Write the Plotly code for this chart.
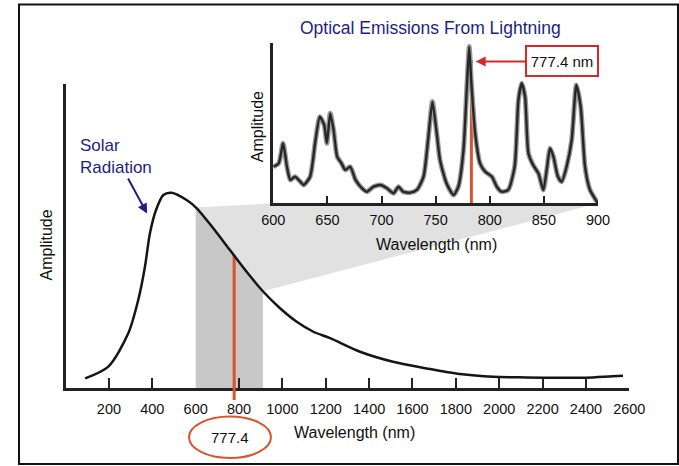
import numpy as np
import plotly.graph_objects as go

# ---------------- data ----------------
# Main (solar radiation) curve: wavelength (nm) and relative amplitude
solar_nm = [90, 197, 289, 335, 366, 389, 417, 451, 489, 558, 605, 681, 758, 835, 912,
            989, 1066, 1143, 1220, 1358, 1510, 1665, 1819, 1972, 2128, 2280, 2432, 2571]
solar_amp = [0.049, 0.109, 0.279, 0.449, 0.619, 0.789, 0.908, 0.985, 0.996, 0.959, 0.917,
             0.815, 0.704, 0.593, 0.491, 0.407, 0.338, 0.287, 0.254, 0.185, 0.134, 0.100,
             0.071, 0.057, 0.054, 0.052, 0.054, 0.062]
main_ticks = [200, 400, 600, 800, 1000, 1200, 1400, 1600, 1800, 2000, 2200, 2400, 2600]
main_tick_marks = [200, 400, 800, 1000, 1200, 1400, 1600, 1800, 2000, 2200, 2400]

band_nm = [600, 910]          # shaded wavelength band
marker_nm = 777.4             # oxygen line

# Inset (lightning spectrum)
light_nm = [600, 605, 609, 612.6, 615.7, 620, 625, 628, 634, 639, 643, 647, 649.5, 652.6,
            655.7, 659, 663, 666.5, 671, 676, 682, 686.5, 692.6, 699, 705, 711, 715.7, 720,
            726.5, 732.6, 738.8, 743, 747, 751, 754, 760, 766.5, 771, 775.7, 779, 781, 783,
            786.5, 791, 795.7, 802, 806.5, 811, 817, 823, 826.5, 829.5, 832.6, 835.7, 840,
            845, 849.5, 852.6, 855.7, 858.8, 863, 866.5, 871, 875.7, 880, 884, 888, 892.6,
            897, 900]
light_amp = [0.234, 0.255, 0.383, 0.234, 0.149, 0.17, 0.138, 0.117, 0.17, 0.404, 0.553, 0.5,
             0.383, 0.574, 0.468, 0.298, 0.255, 0.213, 0.234, 0.149, 0.096, 0.074, 0.106,
             0.117, 0.096, 0.064, 0.106, 0.074, 0.068, 0.085, 0.17, 0.404, 0.649, 0.447,
             0.277, 0.128, 0.053, 0.106, 0.34, 0.766, 1.0, 0.766, 0.447, 0.255, 0.202, 0.17,
             0.106, 0.074, 0.085, 0.234, 0.66, 0.766, 0.68, 0.32, 0.245, 0.19, 0.085, 0.213,
             0.351, 0.298, 0.17, 0.138, 0.234, 0.404, 0.755, 0.617, 0.234, 0.085, 0.032, 0.0]
inset_ticks = [600, 650, 700, 750, 800, 850, 900]
inset_tick_marks = [650, 700, 750, 800, 850]
inset_marker_nm = 783
inset_marker_top = 0.915

# ---------------- layout constants ----------------
W, H = 679, 466
def fx(px): return px / W
def fy(py): return 1 - py / H

MAIN_XD = [fx(65.6), fx(629.3)]
MAIN_YD = [fy(388), fy(84)]
MAIN_XR = [0, 2600]
MAIN_YR = [0, 1.551]
INS_XD = [fx(273.3), fx(598)]
INS_YD = [fy(203.3), fy(43.3)]
INS_XR = [600, 900]
INS_YR = [0, 1.021]

def to_paper(x, y, xd, yd, xr, yr):
    return (xd[0] + (x - xr[0]) / (xr[1] - xr[0]) * (xd[1] - xd[0]),
            yd[0] + (y - yr[0]) / (yr[1] - yr[0]) * (yd[1] - yd[0]))

FONT = "Liberation Sans, Arial, sans-serif"
NAVY = "#1e1e86"
RED = "#d9532b"
BOXRED = "#d42a2a"
AX = "#222222"

fig = go.Figure()

# shaded band under curve
b_amp = [float(np.interp(band_nm[0], solar_nm, solar_amp)),
         float(np.interp(band_nm[1], solar_nm, solar_amp))]
band_x = [band_nm[0]] + [n for n in solar_nm if band_nm[0] < n < band_nm[1]] + [band_nm[1]]
band_y = [b_amp[0]] + [a for n, a in zip(solar_nm, solar_amp) if band_nm[0] < n < band_nm[1]] + [b_amp[1]]
fig.add_trace(go.Scatter(x=band_x, y=band_y, mode="lines", fill="tozeroy",
                         fillcolor="#c8c8c8", line=dict(width=0, shape="spline"),
                         xaxis="x", yaxis="y", hoverinfo="skip"))

# red marker line on main plot
m_amp = float(np.interp(marker_nm, solar_nm, solar_amp))
fig.add_trace(go.Scatter(x=[marker_nm, marker_nm], y=[0, m_amp], mode="lines",
                         line=dict(color=RED, width=3), xaxis="x", yaxis="y", hoverinfo="skip"))

# solar curve
fig.add_trace(go.Scatter(x=solar_nm, y=solar_amp, mode="lines",
                         line=dict(color="#151515", width=2.5, shape="spline", smoothing=0.8),
                         xaxis="x", yaxis="y", hoverinfo="skip"))

# inset red marker
fig.add_trace(go.Scatter(x=[inset_marker_nm, inset_marker_nm], y=[0, inset_marker_top],
                         mode="lines", line=dict(color=RED, width=3),
                         xaxis="x2", yaxis="y2", hoverinfo="skip"))
# inset spectrum (halo + line)
fig.add_trace(go.Scatter(x=light_nm, y=light_amp, mode="lines",
                         line=dict(color="#9a9a9a", width=5, shape="spline", smoothing=0.6),
                         xaxis="x2", yaxis="y2", hoverinfo="skip"))
fig.add_trace(go.Scatter(x=light_nm, y=light_amp, mode="lines",
                         line=dict(color="#262626", width=2.4, shape="spline", smoothing=0.6),
                         xaxis="x2", yaxis="y2", hoverinfo="skip"))

# connector trapezoid (band -> inset)
p1 = to_paper(band_nm[0], b_amp[0], MAIN_XD, MAIN_YD, MAIN_XR, MAIN_YR)
p2 = to_paper(INS_XR[0], 0, INS_XD, INS_YD, INS_XR, INS_YR)
p3 = to_paper(INS_XR[1], 0, INS_XD, INS_YD, INS_XR, INS_YR)
p4 = to_paper(band_nm[1], b_amp[1], MAIN_XD, MAIN_YD, MAIN_XR, MAIN_YR)
path = "M {} {} L {} {} L {} {} L {} {} Z".format(p1[0], p1[1], p2[0], p2[1], p3[0], p3[1], p4[0], p4[1])

shapes = [
    dict(type="path", path=path, xref="paper", yref="paper", fillcolor="#e1e1e1",
         line=dict(width=0), layer="below"),
    # red line tail below the axis
    dict(type="line", xref="x", yref="paper", x0=marker_nm, x1=marker_nm,
         y0=fy(400), y1=MAIN_YD[0], line=dict(color=RED, width=3)),
    # ellipse around 777.4
    dict(type="circle", xref="paper", yref="paper", x0=fx(189), x1=fx(271),
         y0=fy(458), y1=fy(416.5), line=dict(color=RED, width=2)),
    # outer frame
    dict(type="rect", xref="paper", yref="paper", x0=fx(19), x1=fx(678),
         y0=fy(464), y1=fy(4.5), line=dict(color="#111111", width=2)),
]

annotations = [
    dict(text="Optical Emissions From Lightning", x=fx(430.5), y=fy(28.3), xref="paper", yref="paper",
         showarrow=False, font=dict(family=FONT, size=17.5, color=NAVY), xanchor="center", yanchor="middle"),
    dict(text="Wavelength (nm)", x=fx(436), y=fy(245), xref="paper", yref="paper",
         showarrow=False, font=dict(family=FONT, size=16, color="#111"), xanchor="center", yanchor="middle"),
    dict(text="Amplitude", x=fx(257.5), y=fy(126.7), xref="paper", yref="paper", textangle=-90,
         showarrow=False, font=dict(family=FONT, size=16, color="#111"), xanchor="center", yanchor="middle"),
    dict(text="Wavelength (nm)", x=fx(354.6), y=fy(432.5), xref="paper", yref="paper",
         showarrow=False, font=dict(family=FONT, size=16, color="#111"), xanchor="center", yanchor="middle"),
    dict(text="Amplitude", x=fx(46.5), y=fy(245), xref="paper", yref="paper", textangle=-90,
         showarrow=False, font=dict(family=FONT, size=16, color="#111"), xanchor="center", yanchor="middle"),
    dict(text="777.4", x=fx(230), y=fy(437), xref="paper", yref="paper",
         showarrow=False, font=dict(family=FONT, size=15, color="#111"), xanchor="center", yanchor="middle"),
    # Solar Radiation with arrow
    dict(text="Solar<br>Radiation", x=376, y=0.89, xref="x", yref="y", align="left",
         showarrow=True, arrowhead=2, arrowsize=1, arrowwidth=2, arrowcolor=NAVY,
         ax=-31, ay=-57, font=dict(family=FONT, size=17, color=NAVY)),
    # boxed 777.4 nm label with arrow
    dict(text="777.4 nm", x=787, y=0.905, xref="x2", yref="y2",
         showarrow=True, arrowhead=2, arrowsize=1, arrowwidth=2, arrowcolor=BOXRED,
         ax=86, ay=0, font=dict(family=FONT, size=15, color="#111"), width=64, height=22,
         bordercolor=BOXRED, borderwidth=2, borderpad=3, bgcolor="white"),
]

fig.update_layout(
    width=W, height=H, autosize=False,
    margin=dict(l=0, r=0, t=0, b=0, pad=0, autoexpand=False),
    paper_bgcolor="white", plot_bgcolor="rgba(0,0,0,0)", showlegend=False,
    font=dict(family=FONT, color="#111"),
    xaxis=dict(domain=MAIN_XD, range=MAIN_XR, anchor="y", showgrid=False, zeroline=False,
               automargin=False,
               showline=True, linecolor=AX, linewidth=3, tickvals=main_ticks, ticks="",
               ticklabelstandoff=6, tickfont=dict(family=FONT, size=14.5, color="#111"),
               minor=dict(tickvals=main_tick_marks, ticks="inside", ticklen=10, tickwidth=2,
                          tickcolor=AX, showgrid=False)),
    yaxis=dict(domain=MAIN_YD, range=MAIN_YR, anchor="x", showgrid=False, zeroline=False,
               automargin=False,
               showline=True, linecolor=AX, linewidth=3, showticklabels=False, ticks=""),
    xaxis2=dict(domain=INS_XD, range=INS_XR, anchor="y2", showgrid=False, zeroline=False,
                automargin=False,
                showline=True, linecolor=AX, linewidth=2.5, tickvals=inset_ticks, ticks="",
                ticklabelstandoff=2, tickfont=dict(family=FONT, size=14.5, color="#111"),
                minor=dict(tickvals=inset_tick_marks, ticks="inside", ticklen=8, tickwidth=2,
                           tickcolor=AX, showgrid=False)),
    yaxis2=dict(domain=INS_YD, range=INS_YR, anchor="x2", showgrid=False, zeroline=False,
                automargin=False,
                showline=True, linecolor=AX, linewidth=2.5, showticklabels=False, ticks=""),
    shapes=shapes, annotations=annotations,
)

fig.write_html("out.html")
